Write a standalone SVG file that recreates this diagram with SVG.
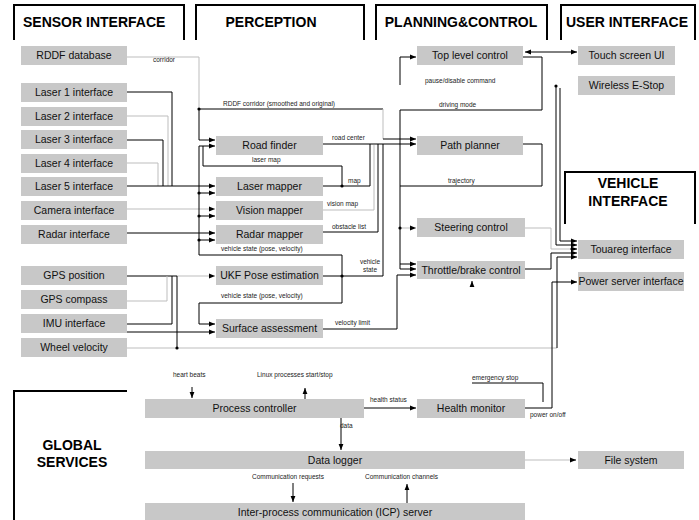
<svg xmlns="http://www.w3.org/2000/svg" width="699" height="520" viewBox="0 0 699 520">
<style>
.frame{fill:none;stroke:#000;stroke-width:2}
.hdr{font-family:"Liberation Sans",Arial,sans-serif;font-weight:bold;font-size:14px;fill:#000}
.box{fill:#c8c8c8}
.t{font-family:"Liberation Sans",Arial,sans-serif;font-size:10.5px;fill:#111;text-anchor:middle}
.lb{font-family:"Liberation Sans",Arial,sans-serif;font-size:6.5px;fill:#222}
.c{fill:none;stroke:#000;stroke-width:1}
.g{fill:none;stroke:#bdbdbd;stroke-width:1}
.a{marker-end:url(#ah)}
.dot{fill:#000}
</style>
<defs>
<marker id="ah" viewBox="0 0 6 6" refX="6" refY="3" markerWidth="6" markerHeight="6" markerUnits="userSpaceOnUse" orient="auto-start-reverse"><path d="M0,0.6 L6,3 L0,5.4 z" fill="#000"/></marker>
</defs>
<rect width="699" height="520" fill="#fff"/>

<g id="frames">
<path class="frame" d="M14,40 V5 H184 V40"/>
<text class="hdr" x="23" y="27">SENSOR INTERFACE</text>
<path class="frame" d="M196,40 V5 H364 V40"/>
<text class="hdr" x="271" y="27" text-anchor="middle">PERCEPTION</text>
<path class="frame" d="M376,40 V5 H547 V40"/>
<text class="hdr" x="461" y="27" text-anchor="middle">PLANNING&amp;CONTROL</text>
<path class="frame" d="M561,40 V5 H695 V40"/>
<text class="hdr" x="627" y="27" text-anchor="middle">USER INTERFACE</text>
<path class="frame" d="M565,224 V172 H695 V224"/>
<text class="hdr" x="628" y="188" text-anchor="middle">VEHICLE</text>
<text class="hdr" x="628" y="206" text-anchor="middle">INTERFACE</text>
<path class="frame" d="M14,521 V391 H127"/>
<text class="hdr" x="72" y="450" text-anchor="middle">GLOBAL</text>
<text class="hdr" x="72" y="467" text-anchor="middle">SERVICES</text>
</g>

<g id="n-rddf"><rect class="box" x="21" y="46" width="106" height="19"/><text class="t" x="74" y="59">RDDF database</text></g>
<g id="n-laser1"><rect class="box" x="21" y="83" width="106" height="19"/><text class="t" x="74" y="96">Laser 1 interface</text></g>
<g id="n-laser2"><rect class="box" x="21" y="107" width="106" height="19"/><text class="t" x="74" y="120">Laser 2 interface</text></g>
<g id="n-laser3"><rect class="box" x="21" y="130" width="106" height="19"/><text class="t" x="74" y="143">Laser 3 interface</text></g>
<g id="n-laser4"><rect class="box" x="21" y="154" width="106" height="19"/><text class="t" x="74" y="167">Laser 4 interface</text></g>
<g id="n-laser5"><rect class="box" x="21" y="177" width="106" height="19"/><text class="t" x="74" y="190">Laser 5 interface</text></g>
<g id="n-camera"><rect class="box" x="21" y="201" width="106" height="19"/><text class="t" x="74" y="214">Camera interface</text></g>
<g id="n-radar"><rect class="box" x="21" y="225" width="106" height="19"/><text class="t" x="74" y="238">Radar interface</text></g>
<g id="n-gpspos"><rect class="box" x="21" y="266" width="106" height="19"/><text class="t" x="74" y="279">GPS position</text></g>
<g id="n-gpscomp"><rect class="box" x="21" y="290" width="106" height="19"/><text class="t" x="74" y="303">GPS compass</text></g>
<g id="n-imu"><rect class="box" x="21" y="314" width="106" height="19"/><text class="t" x="74" y="327">IMU interface</text></g>
<g id="n-wheel"><rect class="box" x="21" y="338" width="106" height="19"/><text class="t" x="74" y="351">Wheel velocity</text></g>

<g id="n-road"><rect class="box" x="216" y="136" width="107" height="19"/><text class="t" x="269.5" y="149">Road finder</text></g>
<g id="n-lasermap"><rect class="box" x="216" y="177" width="107" height="19"/><text class="t" x="269.5" y="190">Laser mapper</text></g>
<g id="n-vision"><rect class="box" x="216" y="201" width="107" height="19"/><text class="t" x="269.5" y="214">Vision mapper</text></g>
<g id="n-radarmap"><rect class="box" x="216" y="225" width="107" height="19"/><text class="t" x="269.5" y="238">Radar mapper</text></g>
<g id="n-ukf"><rect class="box" x="216" y="266" width="107" height="19"/><text class="t" x="269.5" y="279">UKF Pose estimation</text></g>
<g id="n-surface"><rect class="box" x="216" y="319" width="107" height="19"/><text class="t" x="269.5" y="332">Surface assessment</text></g>

<g id="n-top"><rect class="box" x="417" y="46" width="106" height="19"/><text class="t" x="470" y="59">Top level control</text></g>
<g id="n-path"><rect class="box" x="417" y="136" width="106" height="19"/><text class="t" x="470" y="149">Path planner</text></g>
<g id="n-steer"><rect class="box" x="417" y="218" width="108" height="19"/><text class="t" x="471" y="231">Steering control</text></g>
<g id="n-throttle"><rect class="box" x="417" y="261" width="108" height="18"/><text class="t" x="471" y="274">Throttle/brake control</text></g>

<g id="n-touch"><rect class="box" x="578" y="46" width="97" height="19"/><text class="t" x="626.5" y="59">Touch screen UI</text></g>
<g id="n-estop"><rect class="box" x="578" y="76" width="97" height="19"/><text class="t" x="626.5" y="89">Wireless E-Stop</text></g>
<g id="n-touareg"><rect class="box" x="578" y="240" width="106" height="19"/><text class="t" x="631" y="253">Touareg interface</text></g>
<g id="n-power"><rect class="box" x="578" y="272" width="106" height="19"/><text class="t" x="631" y="285">Power server interface</text></g>

<g id="n-proc"><rect class="box" x="145" y="399" width="219" height="19"/><text class="t" x="254.5" y="412">Process controller</text></g>
<g id="n-health"><rect class="box" x="417" y="399" width="108" height="19"/><text class="t" x="471" y="412">Health monitor</text></g>
<g id="n-logger"><rect class="box" x="145" y="451" width="380" height="18"/><text class="t" x="335" y="464">Data logger</text></g>
<g id="n-files"><rect class="box" x="578" y="451" width="106" height="18"/><text class="t" x="631" y="464">File system</text></g>
<g id="n-icp"><rect class="box" x="145" y="503" width="380" height="18"/><text class="t" x="335" y="516">Inter-process communication (ICP) server</text></g>

<g id="connectors">
<path class="g" d="M127,57 H199 V109"/>
<path class="c a" d="M199,109 V140 H215"/>
<path class="c" d="M199,109 H383"/>
<path class="g" d="M383,109 V139"/>
<path class="c a" d="M383,139 H416"/>
<path class="c" d="M127,92 H172 V186"/>
<path class="g" d="M127,116 H168 V186"/>
<path class="c" d="M127,140 H163 V186"/>
<path class="g" d="M127,163 H158 V186"/>
<path class="c a" d="M127,186 H215"/>
<path class="g a" d="M127,209 H215"/>
<path class="c a" d="M127,233 H215"/>
<path class="c a" d="M342,255 H199 V146 H215"/>
<path class="c a" d="M199,193 H215"/>
<path class="c a" d="M199,216 H215"/>
<path class="c a" d="M199,240 H215"/>
<path class="c" d="M342,186 V166 H203 V146"/>
<path class="c" d="M323,186 H370 V144"/>
<path class="g" d="M323,210 H374 V145"/>
<path class="c" d="M323,232 H378 V144"/>
<path class="c" d="M323,276 H383 V144"/>
<path class="c a" d="M323,144 H416"/>
<path class="c a" d="M342,255 V303 H199 V324 H215"/>
<path class="c" d="M127,276 H177"/>
<path class="g a" d="M177,276 H215"/>
<path class="g" d="M127,301 H167 V276"/>
<path class="c" d="M127,324 H172 V276"/>
<path class="c a" d="M127,332 H215"/>
<path class="g" d="M127,348 H557"/>
<path class="c" d="M177,348 V276"/>
<path class="c a" d="M557,348 V257 H577"/>
<path class="c a" d="M323,329 H397 V275 H416"/>
<path class="c a" d="M523,57 H542 V110 H400 V269 H416"/>
<path class="c a" d="M400,264 H416"/>
<path class="g a" d="M400,228 H416"/>
<path class="c" d="M523,144 H542 V186 H400"/>
<path class="c a" d="M400,85 V57 H416"/>
<path class="c a" d="M525,52 H577" marker-start="url(#ah)"/>
<path class="c a" d="M556,86 V245 H577"/>
<path class="c a" d="M560,88 V241 H577"/>
<path class="g" d="M525,228 H551 V249 H570"/>
<path class="c a" d="M570,249 H577"/>
<path class="c a" d="M525,269 H551 V253 H577"/>
<path class="c a" d="M525,408 H552 V282 H577"/>
<path class="c" d="M472,383 H543 V402"/>
<path class="c a" d="M472,286 V281"/>
<path class="c a" d="M192,387 V398"/>
<path class="c a" d="M305,399 V388"/>
<path class="c a" d="M364,408 H416"/>
<path class="c a" d="M341,418 V450"/>
<path class="g" d="M525,460 H570"/>
<path class="c a" d="M570,460 H576"/>
<path class="c a" d="M293,483 V502"/>
<path class="c a" d="M407,503 V484"/>
<circle class="dot" cx="199" cy="109" r="1.6"/>
<circle class="dot" cx="199" cy="193" r="1.6"/>
<circle class="dot" cx="199" cy="216" r="1.6"/>
<circle class="dot" cx="199" cy="240" r="1.6"/>
<circle class="dot" cx="342" cy="186" r="1.6"/>
<circle class="dot" cx="342" cy="276" r="1.6"/>
<circle class="dot" cx="177" cy="348" r="1.6"/>
<circle class="dot" cx="400" cy="228" r="1.6"/>
<circle class="dot" cx="556" cy="86" r="1.6"/>
</g>

<g id="labels">
<text class="lb" x="153" y="62">corridor</text>
<text class="lb" x="223" y="106">RDDF corridor (smoothed and original)</text>
<text class="lb" x="332" y="140">road center</text>
<text class="lb" x="252" y="162">laser map</text>
<text class="lb" x="348" y="183">map</text>
<text class="lb" x="327" y="206">vision map</text>
<text class="lb" x="332" y="229">obstacle list</text>
<text class="lb" x="221" y="251">vehicle state (pose, velocity)</text>
<text class="lb" x="370" y="264" text-anchor="middle">vehicle</text>
<text class="lb" x="370" y="272" text-anchor="middle">state</text>
<text class="lb" x="221" y="298">vehicle state (pose, velocity)</text>
<text class="lb" x="335" y="325">velocity limit</text>
<text class="lb" x="425" y="83">pause/disable command</text>
<text class="lb" x="439" y="107">driving mode</text>
<text class="lb" x="448" y="183">trajectory</text>
<text class="lb" x="173" y="377">heart beats</text>
<text class="lb" x="257" y="377">Linux processes start/stop</text>
<text class="lb" x="370" y="402">health status</text>
<text class="lb" x="340" y="428">data</text>
<text class="lb" x="252" y="479">Communication requests</text>
<text class="lb" x="365" y="479">Communication channels</text>
<text class="lb" x="472" y="380">emergency stop</text>
<text class="lb" x="530" y="417">power on/off</text>
</g>
</svg>
